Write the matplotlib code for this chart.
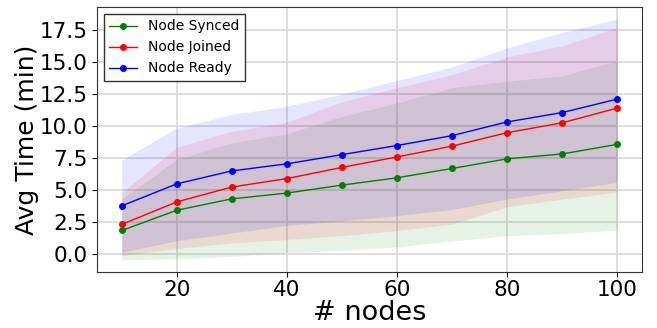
import matplotlib
matplotlib.use("Agg")
import matplotlib.pyplot as plt

nodes = [10, 20, 30, 40, 50, 60, 70, 80, 90, 100]

synced_mean = [1.85, 3.43, 4.32, 4.77, 5.39, 5.96, 6.69, 7.44, 7.82, 8.57]
synced_lower = [-0.45, -0.35, -0.18, 0.1, 0.3, 0.57, 1.04, 1.44, 1.6, 1.88]
synced_upper = [4.3, 7.4, 8.7, 9.4, 10.75, 11.8, 13.0, 13.5, 13.9, 15.1]

joined_mean = [2.33, 4.08, 5.24, 5.9, 6.77, 7.59, 8.43, 9.48, 10.25, 11.4]
joined_lower = [-0.1, 0.45, 0.88, 1.15, 1.45, 1.85, 2.35, 3.7, 4.3, 4.85]
joined_upper = [4.8, 8.35, 9.6, 10.3, 11.9, 13.0, 14.0, 15.4, 16.25, 17.7]

ready_mean = [3.77, 5.49, 6.5, 7.05, 7.77, 8.48, 9.25, 10.32, 11.05, 12.1]
ready_lower = [0.15, 1.05, 1.65, 2.25, 2.6, 3.0, 3.5, 4.3, 4.95, 5.6]
ready_upper = [7.35, 9.85, 10.9, 11.55, 12.5, 13.55, 14.6, 16.1, 17.3, 18.35]

labels = ["Node Synced", "Node Joined", "Node Ready"]
colors = ["green", "red", "blue"]

fig = plt.figure(figsize=(6.57, 3.28), dpi=100)
ax = fig.add_axes([0.1476, 0.1707, 0.977 - 0.1476, 0.9787 - 0.1707])

series = [
    (synced_mean, synced_lower, synced_upper),
    (joined_mean, joined_lower, joined_upper),
    (ready_mean, ready_lower, ready_upper),
]
for (m, lo, hi), c, lab in zip(series, colors, labels):
    ax.plot(nodes, m, color=c, marker="o", markersize=4, linewidth=1, label=lab)
    ax.fill_between(nodes, lo, hi, color=c, alpha=0.1, linewidth=0)

ax.grid(True, color="#d8d8d8", linewidth=1.2)
ax.set_axisbelow(True)
ax.set_yticks([0, 2.5, 5, 7.5, 10, 12.5, 15, 17.5])
ax.set_xticks([20, 40, 60, 80, 100])
ax.tick_params(labelsize=15.5, colors="black")
ax.tick_params(axis="x", pad=2)
for sp in ax.spines.values():
    sp.set_color("#333333")
ax.set_xlabel("# nodes", fontsize=19.5, labelpad=0)
ax.set_ylabel("Avg Time (min)", fontsize=18, labelpad=0)
leg = ax.legend(loc="upper left", fontsize=10, fancybox=False, edgecolor="#333333",
                framealpha=1)
leg.get_frame().set_linewidth(1.0)

fig.savefig("out.png", dpi=100)
